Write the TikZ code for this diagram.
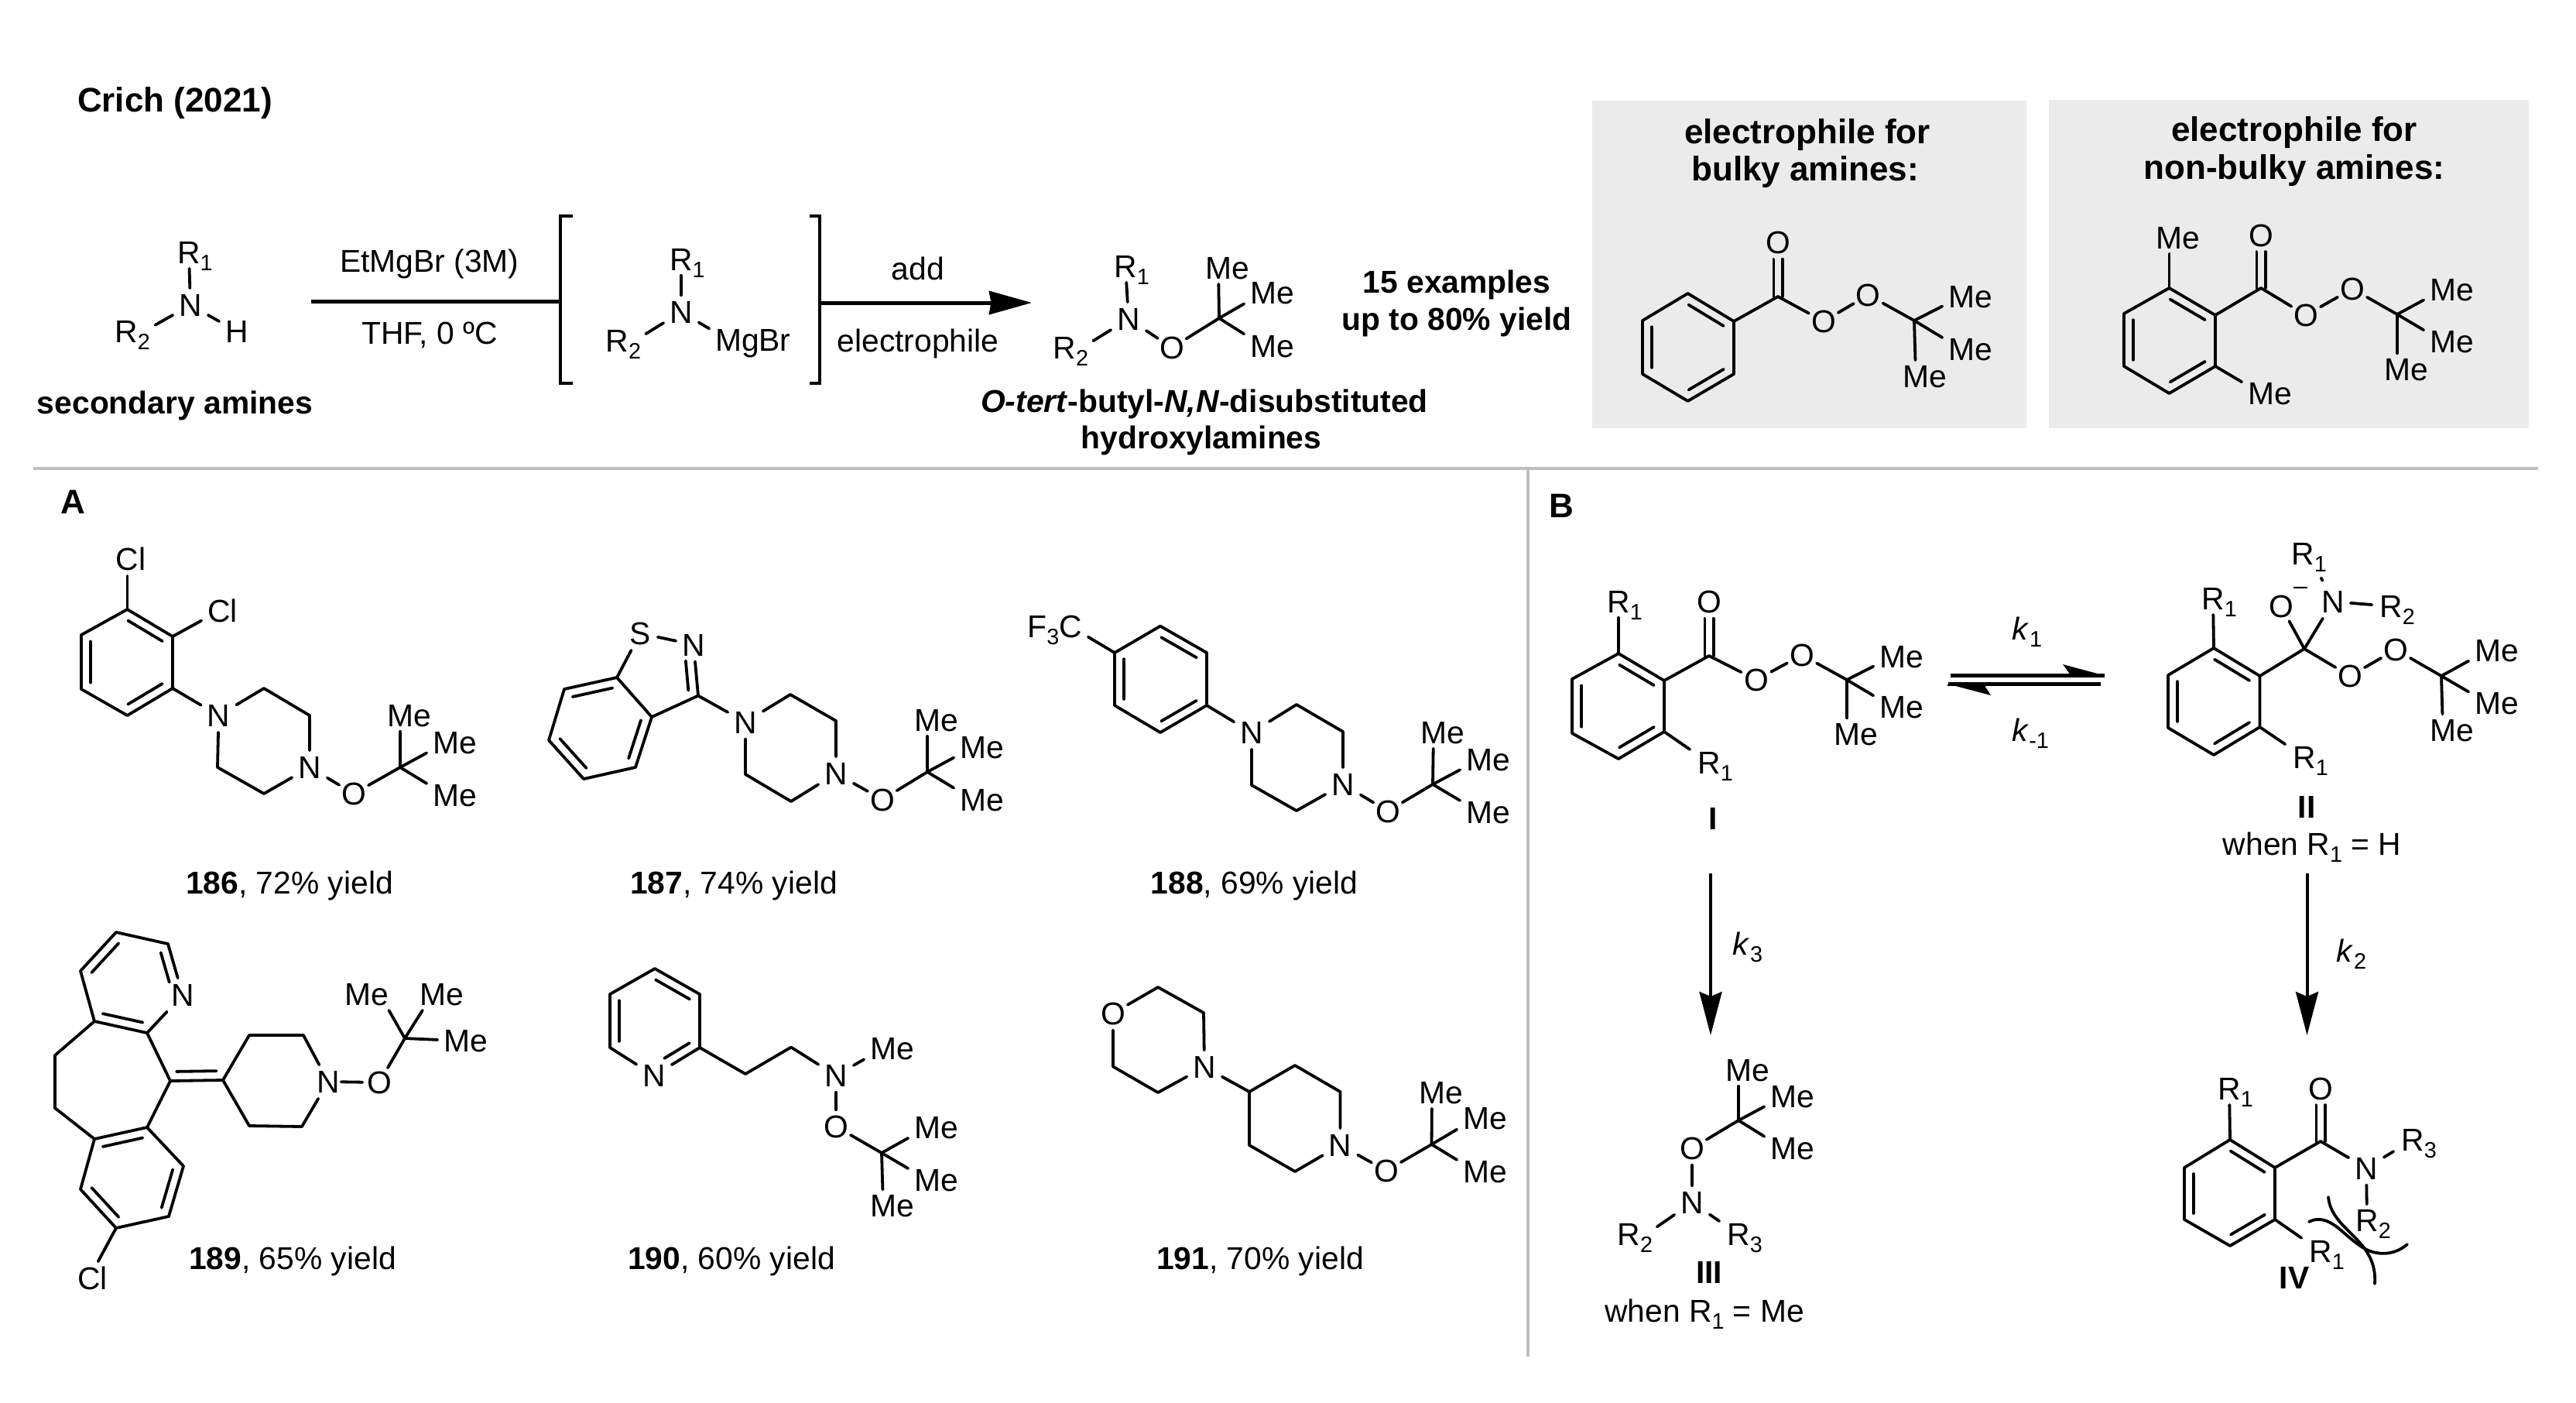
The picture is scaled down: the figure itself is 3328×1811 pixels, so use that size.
\documentclass[tikz,border=0pt]{standalone}
\usepackage{fontspec}
\setmainfont{Liberation Sans}
\usetikzlibrary{calc,arrows.meta}
\newcommand{\sbs}[1]{\raisebox{-.22em}{\fontsize{7.2}{8}\selectfont #1}}
\newcommand{\At}[4]{\node[atom] (#1) at (#2,#3) {\makebox[0pt]{#4}};}
\newcommand{\Ox}[3]{\node[atomo] (#1) at (#2,#3) {\makebox[0pt]{O}};}
\newcommand{\MeA}[3]{\node[atomw] (#1) at ({#2-11},#3) {\makebox[0pt]{M\rlap{e}}};}
\newcommand{\MeB}[3]{\node[atomw] (#1) at ({#2+16.5},#3) {\makebox[0pt]{\llap{M}e}};}
\newcommand{\Ra}[4]{\node[atomw] (#1) at ({#2-8},#3) {\makebox[0pt]{R\rlap{\sbs{#4}}}};}
\newcommand{\Rb}[4]{\node[atomsmall] (#1) at ({#2+14},#3) {\makebox[0pt]{\llap{R}\sbs{#4}}};}
\newcommand{\Tx}[4]{\node[txt] (#1) at (#2,#3) {#4};}
\newcommand{\Cs}[1]{\foreach \n/\x/\y in {#1} {\coordinate (\n) at (\x,\y);}}
\newcommand{\dblX}[4]{\draw[bond] ($(#1)!#3!(#2)!3pt!-90:(#2)$) -- ($(#2)!#4!(#1)!3pt!90:(#1)$);}
\newcommand{\dblR}[2]{\dblX{#1}{#2}{.12}{.12}}
\newcommand{\dblL}[2]{\draw[bond] ($(#1)!.12!(#2)!3pt!90:(#2)$) -- ($(#2)!.12!(#1)!3pt!-90:(#1)$);}
\newcommand{\cdbl}[2]{\draw[bond] ($(#1)!1.4pt!90:(#2)$) -- ($(#2)!.31!(#1)!1.4pt!-90:(#1)$); \draw[bond] ($(#1)!1.4pt!-90:(#2)$) -- ($(#2)!.31!(#1)!1.4pt!90:(#1)$);}
\newcommand{\Ring}[6]{\draw[bond] (#1)--(#2)--(#3)--(#4)--(#5)--(#6)--cycle; \dblR{#1}{#2} \dblR{#3}{#4} \dblR{#5}{#6}}
\tikzset{
  bond/.style={line width=.95pt,line cap=round,line join=round},
  atomo/.style={circle,inner sep=0pt,minimum size=10.5pt,text height=7.3pt,text depth=0pt,font=\fontsize{10.2}{12}\selectfont},
  atom/.style={rectangle,inner sep=0pt,minimum width=11pt,minimum height=10.5pt,text height=7.3pt,text depth=0pt,font=\fontsize{10.2}{12}\selectfont},
  atomw/.style={atom,minimum width=12pt,minimum height=10pt},
  atomsmall/.style={atomo,minimum size=8pt},
  txt/.style={inner sep=0pt,text height=7.3pt,text depth=0pt,font=\fontsize{10.2}{12}\selectfont,align=center},
  ttl/.style={txt,font=\fontsize{11}{13}\selectfont\bfseries},
  rulegray/.style={draw=rulecol,line width=1.2pt},
  panel/.style={fill=boxcol,draw=none},
}
\definecolor{rulecol}{HTML}{BFBFBF}
\definecolor{boxcol}{HTML}{EBEBEB}
\begin{document}
\begin{tikzpicture}[x=.25pt,y=-.25pt]
\useasboundingbox (0,0) rectangle (3328,1811);
% panels and rules
\fill[panel] (2057,130) rectangle (2618,553);
\fill[panel] (2647,129) rectangle (3267,553);
\Cs{rl/43/605,rr/3279/605,rv/1974/605,rb/1974/1752}
\draw[rulegray] (rl) -- (rr);
\draw[rulegray] (rv) -- (rb);
% header text
\Tx{title}{226}{130}{\fontsize{11}{13}\selectfont\bfseries Crich (2021)}
\Tx{tsec}{226}{520}{\bfseries secondary amines}
\Tx{tEt}{555}{337}{EtMgBr (3M)}
\Tx{tTHF}{555}{430}{THF, 0 ºC}
\Tx{tadd}{1186}{347}{add}
\Tx{tel}{1186}{440}{electrophile}
\Tx{tprod}{1556}{518}{\bfseries\textit{O-tert}-butyl-\textit{N,N}-disubstituted}
\Tx{thyd}{1552}{565}{\bfseries hydroxylamines}
\Tx{t15}{1882}{364}{\bfseries 15 examples}
\Tx{tup}{1882}{412}{\bfseries up to 80\% yield}
\node[ttl] (h1a) at (2335,171) {electrophile for};
\node[ttl] (h1b) at (2332,219) {bulky amines:};
\node[ttl] (h2a) at (2964,168) {electrophile for};
\node[ttl] (h2b) at (2964,217) {non-bulky amines:};
\node[ttl] (lA) at (94,649) {A};
\node[ttl] (lB) at (2017,654) {B};
% amine
\At{aN}{246}{394}{N} \Ra{aR1}{252}{326}{1} \Rb{aR2}{172}{428}{2} \At{aH}{306}{428}{H}
\draw[bond] (aN)--(aR1); \draw[bond] (aN)--(aR2); \draw[bond] (aN)--(aH);
% arrow 1 and bracket
\Cs{a1s/402/389,bl1/740/279,bl2/724/279,bl3/724/495,bl4/740/495,bl5/724/389,br1/1046/279,br2/1059/279,br3/1059/495,br4/1046/495,a2s/1059/391,a2e/1333/391}
\draw[line width=1.25pt] (a1s) -- (bl5);
\draw[line width=1pt] (bl1)--(bl2)--(bl3)--(bl4);
\draw[line width=1pt] (br1)--(br2)--(br3)--(br4);
\draw[line width=1.25pt,-{Stealth[length=13.75pt,width=7.5pt,inset=0.6pt]}] (a2s) -- (a2e);
% inner amide
\At{mN}{880}{403}{N} \Ra{mR1}{888}{335}{1} \Rb{mR2}{806}{440}{2}
\node[atomw] (mMg) at (941,439) {\makebox[0pt]{M\rlap{gBr}}};
\draw[bond] (mN)--(mR1); \draw[bond] (mN)--(mR2); \draw[bond] (mN)--(mMg);
% product
\At{pN}{1458}{412}{N} \Ra{pR1}{1462}{344}{1} \Rb{pR2}{1384}{449}{2} \Ox{pO}{1514}{449}
\Cs{pC/1575/411}
\MeA{pM1}{1585}{346} \MeA{pM2}{1643}{378} \MeA{pM3}{1643}{447}
\draw[bond] (pN)--(pR1); \draw[bond] (pN)--(pR2); \draw[bond] (pN)--(pO); \draw[bond] (pO)--(pC);
\draw[bond] (pC)--(pM1); \draw[bond] (pC)--(pM2); \draw[bond] (pC)--(pM3);
% electrophile 1
\Cs{e1/2180.5/379,e2/2240/415,e3/2240/483,e4/2180.5/518,e5/2122/483,e6/2122/414,eC/2297/383,eT/2473/414}
\Ring{e1}{e2}{e3}{e4}{e5}{e6}
\Ox{eO}{2297}{313} \Ox{eO1}{2356}{415} \Ox{eO2}{2413.5}{381}
\MeA{eM1}{2545}{383} \MeA{eM2}{2545}{451} \MeA{eM3}{2486}{486}
\draw[bond] (e2)--(eC); \cdbl{eC}{eO}
\draw[bond] (eC)--(eO1); \draw[bond] (eO1)--(eO2); \draw[bond] (eO2)--(eT);
\draw[bond] (eT)--(eM1); \draw[bond] (eT)--(eM2); \draw[bond] (eT)--(eM3);
% electrophile 2
\Cs{f1/2802.5/372,f2/2862/407,f3/2862/473,f4/2802.5/508,f5/2744/473,f6/2744/405,fC/2921/372,fT/3097/406}
\Ring{f1}{f2}{f3}{f4}{f5}{f6}
\Ox{fO}{2921}{304} \Ox{fO1}{2979}{407} \Ox{fO2}{3039}{373}
\MeA{fM0}{2813.5}{307} \MeA{fM4}{2932}{508}
\MeA{fM1}{3167}{374} \MeA{fM2}{3167}{441} \MeA{fM3}{3108}{477}
\draw[bond] (f1)--(fM0); \draw[bond] (f3)--(fM4); \draw[bond] (f2)--(fC); \cdbl{fC}{fO}
\draw[bond] (fC)--(fO1); \draw[bond] (fO1)--(fO2); \draw[bond] (fO2)--(fT);
\draw[bond] (fT)--(fM1); \draw[bond] (fT)--(fM2); \draw[bond] (fT)--(fM3);
% 186
\Cs{g1/164.5/787,g2/223/822,g3/223/889,g4/164.5/924,g5/105/890,g6/105/820,gt/341/889,gu/400/924,gb/341/1025,gl/281/991,gC/517/991}
\Ring{g1}{g2}{g3}{g4}{g5}{g6}
\node[atom] (gCl1) at (164.5,722) {\makebox[0pt]{C\rlap{l}}};
\node[atom] (gCl2) at (283,789) {\makebox[0pt]{C\rlap{l}}};
\At{gN1}{282.5}{924}{N} \At{gN2}{400}{991}{N} \Ox{gO}{457}{1025}
\MeA{gM1}{528}{924} \MeA{gM2}{587}{959} \MeA{gM3}{587}{1027}
\draw[bond] (g1)--(gCl1); \draw[bond] (g2)--(gCl2); \draw[bond] (g3)--(gN1);
\draw[bond] (gN1)--(gt)--(gu)--(gN2); \draw[bond] (gN2)--(gb)--(gl)--(gN1);
\draw[bond] (gN2)--(gO); \draw[bond] (gO)--(gC);
\draw[bond] (gC)--(gM1); \draw[bond] (gC)--(gM2); \draw[bond] (gC)--(gM3);
\Tx{l186}{374}{1140}{\textbf{186}, 72\% yield}
% 187
\Cs{h3/902/898.5,h3a/842/926,h7a/797/875,h7/729/890,h6/709/956,h5/754/1006,h4/821/991,ht/1021/897,hu/1080/931,hb/1022/1035,hl/963/1000,hC/1198/997}
\At{hS}{827}{818}{S} \At{hNa}{896}{832.5}{N} \At{hN1}{963}{932.5}{N} \At{hN2}{1080}{999}{N} \Ox{hO}{1140}{1032.5}
\MeA{hM1}{1209}{930} \MeA{hM2}{1268}{965} \MeA{hM3}{1268}{1032.5}
\draw[bond] (h7a)--(h3a)--(h4)--(h5)--(h6)--(h7)--cycle;
\dblR{h3a}{h4} \dblR{h5}{h6} \dblR{h7}{h7a}
\draw[bond] (h7a)--(hS); \draw[bond] (hS)--(hNa); \draw[bond] (hNa)--(h3); \draw[bond] (h3)--(h3a);
\dblX{hNa}{h3}{.3}{.12}
\draw[bond] (h3)--(hN1); \draw[bond] (hN1)--(ht)--(hu)--(hN2); \draw[bond] (hN2)--(hb)--(hl)--(hN1);
\draw[bond] (hN2)--(hO); \draw[bond] (hO)--(hC);
\draw[bond] (hC)--(hM1); \draw[bond] (hC)--(hM2); \draw[bond] (hC)--(hM3);
\Tx{l187}{948}{1140}{\textbf{187}, 74\% yield}
% 188
\Cs{i1/1499/808.6,i2/1559/843,i3/1559/911,i4/1499/946,i5/1440/911,i6/1440/843,it/1675/910,iu/1735/945,ib/1675/1047,il/1617/1014,iC/1851/1013}
\Ring{i1}{i2}{i3}{i4}{i5}{i6}
\node[atom] (iCF) at (1383,809) {\makebox[0pt]{\llap{F\sbs{3}}C}};
\At{iN1}{1617}{946}{N} \At{iN2}{1735}{1013}{N} \Ox{iO}{1793}{1047.5}
\MeA{iM1}{1863}{946} \MeA{iM2}{1922}{981} \MeA{iM3}{1922}{1048.6}
\draw[bond] (i6)--(iCF); \draw[bond] (i3)--(iN1);
\draw[bond] (iN1)--(it)--(iu)--(iN2); \draw[bond] (iN2)--(ib)--(il)--(iN1);
\draw[bond] (iN2)--(iO); \draw[bond] (iO)--(iC);
\draw[bond] (iC)--(iM1); \draw[bond] (iC)--(iM2); \draw[bond] (iC)--(iM3);
\Tx{l188}{1620.5}{1140}{\textbf{188}, 69\% yield}
% 189
\Cs{j1/150/1204,j2/217/1219,j4/190/1334,j5/122/1319,j6/104/1254,j7/71/1363,j8/71/1431,j9/122/1471,j10/190/1456,j11/220/1396,j12/237/1506,j13/218/1571,j14/150/1586,j15/104/1536,jx/288/1395,jp1/322/1337,jp2/392/1337,jp4/390/1455,jp5/322/1454,jC/523/1341}
\At{jN}{236}{1285}{N} \At{jPN}{424}{1397}{N} \Ox{jO}{490}{1398}
\node[atom] (jCl) at (115,1651) {\makebox[0pt]{C\rlap{l}}};
\MeB{jM1}{474}{1284} \MeA{jM2}{570}{1284} \MeA{jM3}{601}{1344}
\draw[bond] (j1)--(j2)--(jN); \draw[bond] (jN)--(j4)--(j5)--(j6)--(j1);
\dblX{j2}{jN}{.12}{.3} \dblR{j4}{j5} \dblR{j6}{j1}
\draw[bond] (j5)--(j7)--(j8)--(j9)--(j10)--(j11)--(j4);
\draw[bond] (j10)--(j12)--(j13)--(j14)--(j15)--(j9);
\dblR{j9}{j10} \dblR{j12}{j13} \dblR{j14}{j15}
\draw[bond] (j14)--(jCl);
\draw[bond] (j11)--(jx); \dblL{j11}{jx}
\draw[bond] (jx)--(jp1)--(jp2)--(jPN); \draw[bond] (jPN)--(jp4)--(jp5)--(jx);
\draw[bond,shorten <=-1.5pt] (jPN)--(jO); \draw[bond] (jO)--(jC);
\draw[bond] (jC)--(jM1); \draw[bond] (jC)--(jM2); \draw[bond] (jC)--(jM3);
\Tx{l189}{378}{1625}{\textbf{189}, 65\% yield}
% 190
\Cs{k1/846/1251,k2/904/1284,k3/904/1353,k5/788/1353,k6/788/1284,kc1/963/1387,kc2/1022/1352.5,kC/1139/1489}
\At{kNp}{845}{1389}{N} \At{kN}{1080}{1389}{N} \Ox{kO}{1080}{1455}
\MeA{kM0}{1152}{1354} \MeA{kM1}{1209}{1456} \MeA{kM2}{1209}{1523.6} \MeA{kM3}{1152}{1557}
\draw[bond] (k1)--(k2)--(k3)--(kNp); \draw[bond] (kNp)--(k5)--(k6)--(k1);
\dblR{k1}{k2} \dblX{k3}{kNp}{.12}{.33} \dblR{k5}{k6}
\draw[bond] (k3)--(kc1)--(kc2)--(kN); \draw[bond] (kN)--(kM0); \draw[bond] (kN)--(kO); \draw[bond] (kO)--(kC);
\draw[bond] (kC)--(kM1); \draw[bond] (kC)--(kM2); \draw[bond] (kC)--(kM3);
\Tx{l190}{945}{1625}{\textbf{190}, 60\% yield}
% 191
\Cs{m1/1496/1275,m2/1555/1308,m4/1496/1411,m5/1438/1377.5,mt/1673/1376,mu/1731.5/1410,mb/1673/1513,ml/1614/1479,mv/1614/1410,mC/1849.5/1478}
\Ox{mOa}{1438}{1308.6} \At{mNa}{1556}{1378}{N} \At{mNb}{1731.5}{1479}{N} \Ox{mO}{1791}{1512}
\MeA{mM1}{1861}{1411} \MeA{mM2}{1918}{1444} \MeA{mM3}{1918}{1513}
\draw[bond] (mOa)--(m1)--(m2)--(mNa); \draw[bond] (mNa)--(m4)--(m5)--(mOa);
\draw[bond] (mNa)--(mv); \draw[bond] (mv)--(mt)--(mu)--(mNb); \draw[bond] (mNb)--(mb)--(ml)--(mv);
\draw[bond] (mNb)--(mO); \draw[bond] (mO)--(mC);
\draw[bond] (mC)--(mM1); \draw[bond] (mC)--(mM2); \draw[bond] (mC)--(mM3);
\Tx{l191}{1628}{1625}{\textbf{191}, 70\% yield}
% I
\Cs{n1/2091/844,n2/2150/879,n3/2150/945,n4/2091/980,n5/2031/947,n6/2031/877,nC/2208/847,nT/2386/878}
\Ring{n1}{n2}{n3}{n4}{n5}{n6}
\Ra{nR1}{2099}{777}{1} \Ra{nR2}{2216}{985}{1}
\Ox{nO}{2208}{777} \Ox{nO1}{2269}{878} \Ox{nO2}{2328}{846}
\MeA{nM1}{2456}{848} \MeA{nM2}{2456}{913} \MeA{nM3}{2397}{948}
\draw[bond] (n1)--(nR1); \draw[bond] (n3)--(nR2); \draw[bond] (n2)--(nC); \cdbl{nC}{nO}
\draw[bond] (nC)--(nO1); \draw[bond] (nO1)--(nO2); \draw[bond] (nO2)--(nT);
\draw[bond] (nT)--(nM1); \draw[bond] (nT)--(nM2); \draw[bond] (nT)--(nM3);
\Tx{lI}{2213.5}{1057}{\bfseries I}
% II
\Cs{o1/2860/837,o2/2919.5/873,o3/2919.5/939,o4/2860/975,o5/2801/940,o6/2801/872,oC/2977/838,oT/3154/873}
\Ring{o1}{o2}{o3}{o4}{o5}{o6}
\Ra{oR1}{2867}{773}{1} \Ra{oR2}{2985}{978}{1}
\Ox{oOm}{2947}{783} \At{oN}{3014}{777}{N} \Ox{oO1}{3036}{873} \Ox{oO2}{3095}{839}
\node[atom] (oRt) at (2983,715) {\makebox[0pt]{R\sbs{1}}};
\Ra{oRr}{3097}{783}{2}
\node[anchor=base,inner sep=0pt,font=\fontsize{8}{9}\selectfont] (oMinus) at (2972,767) {–};
\MeA{oM1}{3225}{840} \MeA{oM2}{3225}{908} \MeA{oM3}{3167}{943}
\draw[bond] (o1)--(oR1); \draw[bond] (o3)--(oR2); \draw[bond] (o2)--(oC);
\draw[bond] (oC)--(oOm); \draw[bond] (oC)--(oN); \draw[bond] (oN)--(oRr);
\draw[bond,shorten >=2.7pt,shorten <=1.5pt] (oN)--(oRt);
\draw[bond] (oC)--(oO1); \draw[bond] (oO1)--(oO2); \draw[bond] (oO2)--(oT);
\draw[bond] (oT)--(oM1); \draw[bond] (oT)--(oM2); \draw[bond] (oT)--(oM3);
\Tx{lII}{2980}{1042}{\bfseries II}
\Tx{wII}{2987}{1090}{when R\sbs{1} = H}
% equilibrium
\Cs{q1/2519.5/872.5,q2/2719/872.5,q3/2714/883.5,q4/2517/883.5,q5/2665/858,q6/2674/870.5,q7/2572/898,q8/2564/885.5,q9/2515/885.5,q10/2719/870.5}
\draw[line width=1.2pt] (q1)--(q2);
\draw[line width=1.2pt] (q3)--(q4);
\fill (q2)--(q5)--(q6)--(q10)--cycle;
\fill (q4)--(q7)--(q8)--(q9)--cycle;
\Tx{k1}{2619}{812}{\textit{k}\sbs{1}}
\Tx{km1}{2623}{943}{\textit{k}\sbs{-1}}
% vertical arrows
\Cs{v1s/2210/1128,v1e/2210/1337,v2s/2980.5/1128,v2e/2980.5/1337}
\draw[line width=1pt,-{Stealth[length=14pt,width=7.25pt,inset=1.5pt]}] (v1s)--(v1e);
\draw[line width=1pt,-{Stealth[length=14pt,width=7.25pt,inset=1.5pt]}] (v2s)--(v2e);
\Tx{k3}{2258}{1219}{\textit{k}\sbs{3}}
\Tx{k2}{3038}{1228}{\textit{k}\sbs{2}}
% III
\Cs{rC/2246/1447}
\Ox{rO}{2186}{1483} \At{rN}{2186}{1553}{N}
\MeA{rM1}{2257}{1382} \MeA{rM2}{2315}{1416} \MeA{rM3}{2315}{1483}
\Rb{rR2}{2113}{1594}{2} \Ra{rR3}{2254}{1594}{3}
\draw[bond] (rC)--(rM1); \draw[bond] (rC)--(rM2); \draw[bond] (rC)--(rM3);
\draw[bond] (rC)--(rO); \draw[bond] (rO)--(rN); \draw[bond] (rN)--(rR2); \draw[bond] (rN)--(rR3);
\Tx{lIII}{2208}{1643}{\bfseries III}
\Tx{wIII}{2202}{1693}{when R\sbs{1} = Me}
% IV
\Cs{s1/2881/1472,s2/2939/1508,s3/2939/1575,s4/2881/1609,s5/2822/1575,s6/2822/1508,sC/2998/1474,sa1/3008/1546,sa2/3068/1658,sb1/2983/1578,sb2/3110/1607,sb3/3070/1618}
\Ring{s1}{s2}{s3}{s4}{s5}{s6}
\Ra{sR1}{2888}{1406}{1} \Ra{sRl}{3006}{1616}{1} \Ra{sR3}{3125}{1472}{3} \Ra{sR2}{3066}{1576}{2}
\Ox{sO}{2998}{1406} \At{sN}{3057}{1508.5}{N}
\draw[bond] (s1)--(sR1); \draw[bond] (s3)--(sRl); \draw[bond] (s2)--(sC); \cdbl{sC}{sO}
\draw[bond] (sC)--(sN); \draw[bond] (sN)--(sR3); \draw[bond] (sN)--(sR2);
\draw[bond] (sa1) .. controls (3012,1590) and (3072,1600) .. (sa2);
\draw[bond] (sb1) .. controls (3015,1562) and (3035,1612) .. (sb3) .. controls (3085,1621) and (3100,1616) .. (sb2);
\Tx{lIV}{2964}{1650}{\bfseries IV}
\end{tikzpicture}
\end{document}
